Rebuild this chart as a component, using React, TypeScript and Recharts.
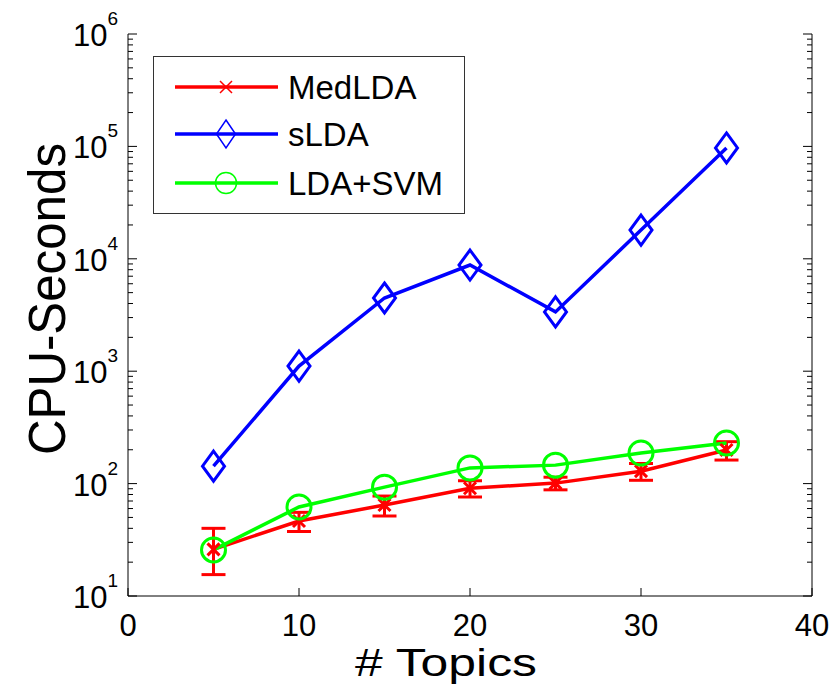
import React from 'react';
import { ComposedChart, Line, XAxis, YAxis, ErrorBar, Legend } from 'recharts';

const FONT = '"Liberation Sans", Arial, Helvetica, sans-serif';

const topics = [5, 10, 15, 20, 25, 30, 35];
const medLDA = [26, 46.5, 64.5, 91, 101, 129, 199];
const medLDAErr = [[10.5, 14], [9, 9], [13, 13], [15, 15], [13, 13], [22, 22], [37, 37]];
const sLDA = [143, 1110, 4480, 8800, 3370, 18000, 96800];
const ldaSVM = [25.7, 62, 93, 138, 146, 187, 230];

const xTicks = [0, 10, 20, 30, 40];
const yTicks = [
  10, 20, 30, 40, 50, 60, 70, 80, 90,
  100, 200, 300, 400, 500, 600, 700, 800, 900,
  1000, 2000, 3000, 4000, 5000, 6000, 7000, 8000, 9000,
  10000, 20000, 30000, 40000, 50000, 60000, 70000, 80000, 90000,
  100000, 200000, 300000, 400000, 500000, 600000, 700000, 800000, 900000,
  1000000,
];

const seriesNames = ['MedLDA', 'sLDA', 'LDA+SVM'];
const RED = '#ff0000';
const BLUE = '#0000ff';
const GREEN = '#00ff00';

const data = topics.map((t, i) => ({
  topics: t,
  medLDA: medLDA[i],
  medErr: medLDAErr[i],
  sLDA: sLDA[i],
  ldaSVM: ldaSVM[i],
}));

const isMajor = (v: number) => {
  const l = Math.log10(v);
  return Math.abs(l - Math.round(l)) < 1e-9;
};

const LeftTick = (props: any) => {
  const { x, y, payload } = props;
  const v = payload.value;
  const major = isMajor(v);
  const exp = Math.round(Math.log10(v));
  return (
    <g>
      <line x1={x} x2={x + (major ? 9 : 5)} y1={y} y2={y} stroke="#000" strokeWidth={1} />
      {major && (
        <text x={x - 10} y={y + 12} textAnchor="end" fontSize={31} fontFamily={FONT} fill="#000">
          10
          <tspan dy={-21} fontSize={19}>{exp}</tspan>
        </text>
      )}
    </g>
  );
};

const RightTick = (props: any) => {
  const { x, y, payload } = props;
  const major = isMajor(payload.value);
  return <line x1={x} x2={x - (major ? 9 : 5)} y1={y} y2={y} stroke="#000" strokeWidth={1} />;
};

const BottomTick = (props: any) => {
  const { x, y, payload } = props;
  return (
    <g>
      <line x1={x} x2={x} y1={y} y2={y - 8} stroke="#000" strokeWidth={1} />
      <text x={x} y={y + 40} textAnchor="middle" fontSize={31} fontFamily={FONT} fill="#000">
        {payload.value}
      </text>
    </g>
  );
};

const TopTick = (props: any) => {
  const { x, y } = props;
  return <line x1={x} x2={x} y1={y} y2={y + 8} stroke="#000" strokeWidth={1} />;
};

const YLabel = (props: any) => {
  const vb = props.viewBox || { x: 0, y: 34, width: 128, height: 562 };
  const cx = vb.x + 65;
  const cy = vb.y + vb.height / 2 - 16;
  return (
    <text
      x={cx}
      y={cy}
      transform={`rotate(-90 ${cx} ${cy})`}
      textAnchor="middle"
      fontSize={52}
      fontFamily={FONT}
      fill="#000"
      textLength={312}
      lengthAdjust="spacingAndGlyphs"
    >
      CPU-Seconds
    </text>
  );
};

const XLabel = (props: any) => {
  const vb = props.viewBox || { x: 128, y: 596, width: 684, height: 92 };
  const cx = vb.x + vb.width / 2 - 24;
  const cy = vb.y + 80;
  return (
    <text
      x={cx}
      y={cy}
      textAnchor="middle"
      fontSize={38}
      fontFamily={FONT}
      fill="#000"
      textLength={182}
      lengthAdjust="spacingAndGlyphs"
    >
      # Topics
    </text>
  );
};

const XMark = ({ cx, cy, s = 6, w = 3 }: any) => (
  <path d={`M${cx - s},${cy - s}L${cx + s},${cy + s}M${cx - s},${cy + s}L${cx + s},${cy - s}`} stroke={RED} strokeWidth={w} fill="none" />
);
const Diamond = ({ cx, cy, hw = 11, hh = 15, w = 3 }: any) => (
  <path d={`M${cx},${cy - hh}L${cx + hw},${cy}L${cx},${cy + hh}L${cx - hw},${cy}Z`} stroke={BLUE} strokeWidth={w} fill="none" />
);
const Circ = ({ cx, cy, r = 12, w = 3 }: any) => (
  <circle cx={cx} cy={cy} r={r} stroke={GREEN} strokeWidth={w} fill="none" />
);

const LegendBox = () => {
  const rows = [31, 78, 127];
  const colors = [RED, BLUE, GREEN];
  return (
    <svg width={312} height={158} style={{ display: 'block' }}>
      <rect x={0.5} y={0.5} width={311} height={157} fill="#fff" stroke="#333" strokeWidth={1} />
      {rows.map((ry, i) => (
        <g key={i}>
          <line x1={22} x2={125} y1={ry} y2={ry} stroke={colors[i]} strokeWidth={3.5} />
          {i === 0 && <XMark cx={73} cy={ry} s={6} w={1.5} />}
          {i === 1 && <Diamond cx={73} cy={ry} hw={9.5} hh={14} w={1.5} />}
          {i === 2 && <Circ cx={73} cy={ry} r={10.5} w={1.5} />}
          <text x={135} y={ry + 12} fontSize={33} fontFamily={FONT} fill="#000">
            {seriesNames[i]}
          </text>
        </g>
      ))}
    </svg>
  );
};

export default function App() {
  return (
    <div style={{ position: 'absolute', left: 0, top: 0, width: 835, height: 688, background: '#fff' }}>
      <ComposedChart width={835} height={688} data={data} margin={{ top: 34, right: 0, bottom: 0, left: 0 }}>
        <XAxis
          xAxisId="b"
          dataKey="topics"
          type="number"
          domain={[0, 40]}
          ticks={xTicks}
          interval={0}
          allowDataOverflow
          height={92}
          tickSize={0}
          tickMargin={0}
          tickLine={false}
          axisLine={{ stroke: '#000', strokeWidth: 1 }}
          tick={<BottomTick />}
          label={<XLabel />}
        />
        <XAxis
          xAxisId="t"
          dataKey="topics"
          orientation="top"
          type="number"
          domain={[0, 40]}
          ticks={xTicks}
          interval={0}
          allowDataOverflow
          height={0}
          tickSize={0}
          tickMargin={0}
          tickLine={false}
          axisLine={{ stroke: '#000', strokeWidth: 1 }}
          tick={<TopTick />}
        />
        <YAxis
          yAxisId="l"
          scale="log"
          type="number"
          domain={[10, 1000000]}
          ticks={yTicks}
          interval={0}
          allowDataOverflow
          width={128}
          tickSize={0}
          tickMargin={0}
          tickLine={false}
          axisLine={{ stroke: '#000', strokeWidth: 1 }}
          tick={<LeftTick />}
          label={<YLabel />}
        />
        <YAxis
          yAxisId="r"
          orientation="right"
          scale="log"
          type="number"
          domain={[10, 1000000]}
          ticks={yTicks}
          interval={0}
          allowDataOverflow
          width={23}
          tickSize={0}
          tickMargin={0}
          tickLine={false}
          axisLine={{ stroke: '#000', strokeWidth: 1 }}
          tick={<RightTick />}
        />
        <Line
          xAxisId="b"
          yAxisId="l"
          dataKey="medLDA"
          name={seriesNames[0]}
          stroke={RED}
          strokeWidth={3.5}
          isAnimationActive={false}
          dot={(p: any) => <XMark key={`m${p.index}`} cx={p.cx} cy={p.cy} />}
          activeDot={false}
        >
          <ErrorBar dataKey="medErr" direction="y" width={12} stroke={RED} strokeWidth={3} isAnimationActive={false} />
        </Line>
        <Line
          xAxisId="b"
          yAxisId="l"
          dataKey="sLDA"
          name={seriesNames[1]}
          stroke={BLUE}
          strokeWidth={3.5}
          isAnimationActive={false}
          dot={(p: any) => <Diamond key={`s${p.index}`} cx={p.cx} cy={p.cy} />}
          activeDot={false}
        />
        <Line
          xAxisId="b"
          yAxisId="l"
          dataKey="ldaSVM"
          name={seriesNames[2]}
          stroke={GREEN}
          strokeWidth={3.5}
          isAnimationActive={false}
          dot={(p: any) => <Circ key={`g${p.index}`} cx={p.cx} cy={p.cy} />}
          activeDot={false}
        />
        <Legend
          layout="horizontal"
          verticalAlign="middle"
          align="center"
          width={312}
          height={158}
          wrapperStyle={{ left: 153, top: 56, width: 312, height: 158 }}
          content={() => <LegendBox />}
        />
      </ComposedChart>
    </div>
  );
}
